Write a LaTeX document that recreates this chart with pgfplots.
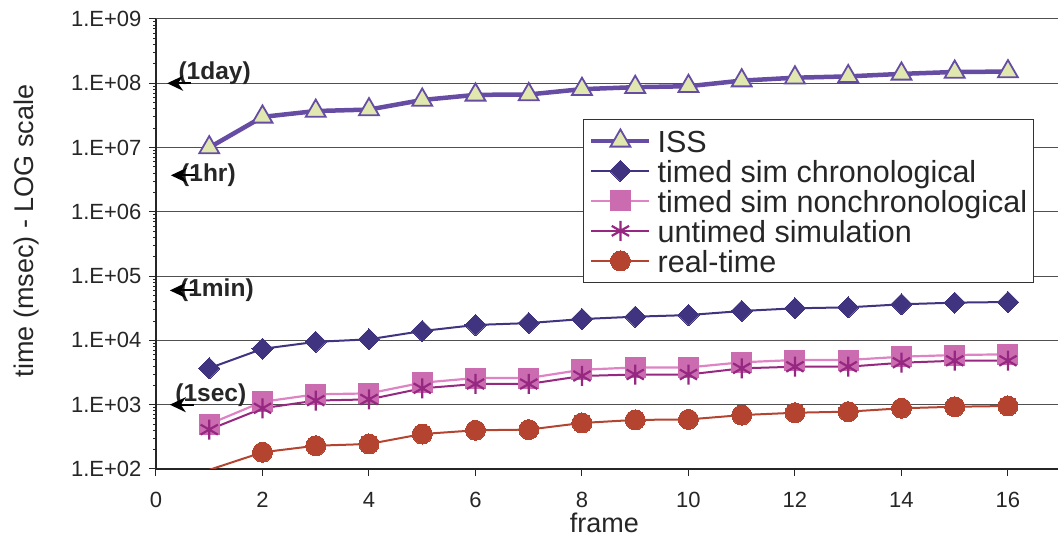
\documentclass[border=0pt]{standalone}
\usepackage{fontspec}
\setmainfont{Liberation Sans}
\usepackage{pgfplots}
\pgfplotsset{compat=1.18}
\usetikzlibrary{arrows.meta,calc}
\definecolor{issline}{RGB}{102,76,163}
\definecolor{issfill}{RGB}{224,232,176}
\definecolor{chrono}{RGB}{64,52,128}
\definecolor{nonchrono}{RGB}{204,108,176}
\definecolor{nonchronoline}{RGB}{222,132,196}
\definecolor{untimed}{RGB}{150,40,130}
\definecolor{realtime}{RGB}{180,68,48}
\definecolor{gridc}{RGB}{80,80,80}
\begin{document}
\begin{tikzpicture}
\begin{axis}[
  scale only axis, width=902pt, height=450pt,
  xmin=0, xmax=16.94, ymode=log, ymin=1e2, ymax=1e9,
  axis x line=bottom, axis y line=left,
  axis line style={-, line width=1.2pt, color=black!85},
  xtick={0,2,...,16},
  ytick={1e2,1e3,1e4,1e5,1e6,1e7,1e8,1e9},
  yticklabels={1.E+02,1.E+03,1.E+04,1.E+05,1.E+06,1.E+07,1.E+08,1.E+09},
  /pgf/number format/assume math mode=true,
  tick align=outside, major tick length=7pt,
  tick style={line width=1pt, color=black!85},
  minor tick num=0,
  ymajorgrids, grid style={line width=1pt, color=gridc},
  ticklabel style={font=\fontsize{22}{24}\selectfont, color=black!85},
  xticklabel style={yshift=-13pt},
  yticklabel style={xshift=-4pt},
  xlabel={frame},
  xlabel style={at={(axis description cs:0.497,-0.12)}, anchor=center, inner sep=0pt, font=\fontsize{27}{28}\selectfont, color=black!85},
  ylabel={time (msec) - LOG scale},
  ylabel style={at={(axis description cs:-0.143,0.529)}, rotate=0, anchor=center, font=\fontsize{27}{28}\selectfont, color=black!85},
  legend style={at={(0.473,0.778)}, anchor=north west, draw=black!80, line width=1pt,
    font=\fontsize{30.5}{31}\selectfont, inner xsep=6pt, inner ysep=6.5pt, row sep=0pt,
    nodes={inner sep=0pt, text height=27pt, text depth=3pt, text=black!85},
    /tikz/every odd column/.append style={column sep=6pt}},
  legend cell align=left,
  legend image code/.code={\draw[mark repeat=2, mark phase=2, #1] plot coordinates {(0pt,0pt) (29pt,0pt) (58pt,0pt)};},
]
\addplot[issline, line width=4.5pt, mark=triangle*, mark size=11.5pt,
  mark options={fill=issfill, draw=issline, line width=1.8pt, solid}] coordinates {
(1,1.0e7) (2,3.0e7) (3,3.7e7) (4,3.9e7) (5,5.5e7) (6,6.6e7) (7,6.7e7) (8,8.1e7)
(9,8.7e7) (10,9.0e7) (11,1.1e8) (12,1.22e8) (13,1.28e8) (14,1.4e8) (15,1.5e8) (16,1.52e8)};
\addlegendentry{ISS}
\addplot[chrono, line width=2pt, mark=square*, mark size=7.5pt,
  mark options={fill=chrono, draw=chrono, rotate=45, line width=0pt}] coordinates {
(1,3.7e3) (2,7.4e3) (3,9.5e3) (4,1.04e4) (5,1.4e4) (6,1.74e4) (7,1.86e4) (8,2.15e4)
(9,2.34e4) (10,2.48e4) (11,2.87e4) (12,3.16e4) (13,3.27e4) (14,3.65e4) (15,3.87e4) (16,3.96e4)};
\addlegendentry{timed sim chronological}
\addplot[nonchronoline, line width=2.2pt, mark=square*, mark size=10pt,
  mark options={fill=nonchrono, draw=nonchrono, line width=0pt}] coordinates {
(1,5.0e2) (2,1.11e3) (3,1.45e3) (4,1.5e3) (5,2.2e3) (6,2.6e3) (7,2.6e3) (8,3.5e3)
(9,3.8e3) (10,3.8e3) (11,4.57e3) (12,4.96e3) (13,4.96e3) (14,5.58e3) (15,5.93e3) (16,6.08e3)};
\addlegendentry{timed sim nonchronological}
\addplot[untimed, line width=2pt, mark=asterisk, mark size=10pt,
  mark options={draw=untimed, line width=2.2pt}] coordinates {
(1,4.1e2) (2,8.8e2) (3,1.16e3) (4,1.21e3) (5,1.8e3) (6,2.1e3) (7,2.1e3) (8,2.8e3)
(9,2.95e3) (10,2.95e3) (11,3.68e3) (12,3.9e3) (13,3.9e3) (14,4.5e3) (15,4.83e3) (16,4.83e3)};
\addlegendentry{untimed simulation}
\addplot[realtime, line width=2pt, forget plot] coordinates {(1,97) (2,1.82e2)};
\addplot[realtime, line width=2pt, mark=*, mark size=10pt,
  mark options={fill=realtime, draw=realtime, line width=0pt}] coordinates {
(2,1.82e2) (3,2.3e2) (4,2.45e2) (5,3.5e2) (6,4.0e2) (7,4.1e2) (8,5.2e2)
(9,5.8e2) (10,5.9e2) (11,6.9e2) (12,7.5e2) (13,7.8e2) (14,8.8e2) (15,9.3e2) (16,9.55e2)};
\addlegendentry{real-time}
% annotations
\node[font=\bfseries\fontsize{24.5}{26}\selectfont, anchor=west, inner sep=0pt, text=black!85] at (axis cs:0.42,1.45e8) {(1day)};
\node[font=\bfseries\fontsize{24.5}{26}\selectfont, anchor=west, inner sep=0pt, text=black!85] at (axis cs:0.47,3.7e6) {(1hr)};
\node[font=\bfseries\fontsize{24.5}{26}\selectfont, anchor=west, inner sep=0pt, text=black!85] at (axis cs:0.45,6.0e4) {(1min)};
\node[font=\bfseries\fontsize{24.5}{26}\selectfont, anchor=west, inner sep=0pt, text=black!85] at (axis cs:0.36,1.42e3) {(1sec)};
\draw[-{Stealth[length=16pt,width=15pt]}, line width=2pt] (axis cs:0.66,1e8) -- (axis cs:0.21,1e8);
\draw[-{Stealth[length=16pt,width=15pt]}, line width=2pt] (axis cs:0.73,3.7e6) -- (axis cs:0.28,3.7e6);
\draw[-{Stealth[length=16pt,width=15pt]}, line width=2pt] (axis cs:0.71,6.0e4) -- (axis cs:0.26,6.0e4);
\draw[-{Stealth[length=16pt,width=15pt]}, line width=2pt] (axis cs:0.71,1e3) -- (axis cs:0.26,1e3);
\end{axis}
\pgfresetboundingbox
\path[use as bounding box] ($(current axis.south west)+(-156pt,-69pt)$) rectangle ($(current axis.north east)+(0pt,19pt)$);
\end{tikzpicture}
\end{document}
